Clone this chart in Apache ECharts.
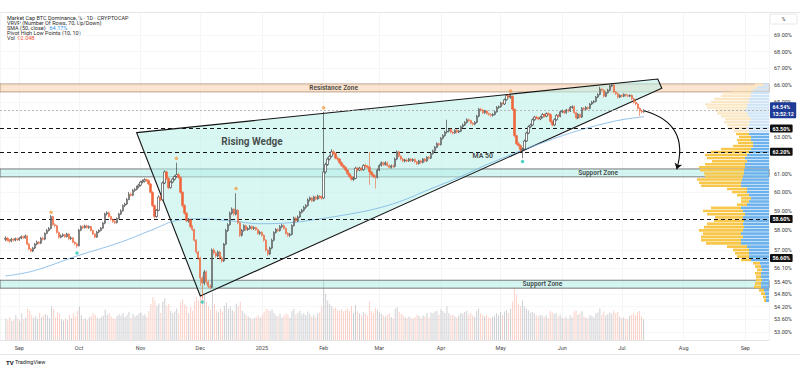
<!DOCTYPE html>
<html><head><meta charset="utf-8">
<script src="https://cdn.jsdelivr.net/npm/echarts@6/dist/echarts.min.js"></script>
<style>html,body{margin:0;padding:0;background:#fff}#c{width:800px;height:370px}</style>
</head><body><div id="c"></div>
<script>
// ---------- DATA ----------
const startDate = '2024-08-25';
// daily candles: [open, close, low, high]
const ohlc = [
[57.55,57.6,57.45,57.7],[57.6,57.5,57.42,57.66],[57.5,57.45,57.36,57.56],[57.45,57.55,57.4,57.62],[57.55,57.5,57.43,57.6],
[57.5,57.58,57.44,57.64],[57.58,57.52,57.46,57.63],[57.52,57.6,57.47,57.66],[57.6,57.68,57.55,57.75],[57.68,57.62,57.56,57.74],
[57.62,57.72,57.58,57.8],[57.72,57.3,57.25,57.76],[57.3,57.05,56.98,57.36],[57.05,56.95,56.88,57.1],[56.95,57.1,56.9,57.16],
[57.1,57.3,57.05,57.36],[57.3,57.4,57.24,57.48],[57.4,57.35,57.28,57.46],[57.35,57.6,57.3,57.66],[57.6,57.55,57.48,57.68],
[57.55,57.85,57.5,57.9],[57.85,58.0,57.8,58.08],[58.0,58.1,57.94,58.18],[58.1,58.72,58.05,58.8],[58.72,58.3,58.24,58.76],
[58.3,58.25,58.15,58.38],[58.25,57.9,57.84,58.3],[57.9,57.65,57.58,57.95],[57.65,57.72,57.6,57.8],[57.72,57.78,57.66,57.85],
[57.78,57.68,57.62,57.82],[57.68,57.82,57.64,57.88],[57.82,57.58,57.52,57.86],[57.58,57.62,57.5,57.7],[57.62,57.4,57.35,57.66],
[57.4,57.32,57.24,57.46],[57.32,57.22,57.1,57.38],[57.22,58.02,57.18,58.08],[58.02,58.2,57.96,58.26],[58.2,58.14,58.08,58.28],
[58.14,58.24,58.1,58.3],[58.24,58.15,58.1,58.3],[58.15,58.2,58.08,58.26],[58.2,58.0,57.95,58.24],[58.0,57.82,57.76,58.05],
[57.82,57.66,57.6,57.86],[57.66,57.92,57.62,57.98],[57.92,58.0,57.86,58.06],[58.0,58.12,57.95,58.18],[58.12,58.38,58.08,58.44],
[58.38,58.86,58.32,58.92],[58.86,58.92,58.78,59.0],[58.92,58.72,58.66,58.98],[58.72,58.56,58.5,58.78],[58.56,58.46,58.4,58.62],
[58.46,58.4,58.32,58.52],[58.4,58.62,58.36,58.68],[58.62,58.86,58.58,58.92],[58.86,59.02,58.8,59.1],[59.02,59.3,58.98,59.36],
[59.3,59.38,59.22,59.45],[59.38,59.62,59.32,59.7],[59.62,59.9,59.58,60.02],[59.9,59.84,59.76,59.98],[59.84,60.1,59.8,60.18],
[60.1,60.16,60.02,60.24],[60.16,60.3,60.1,60.36],[60.3,60.38,60.22,60.46],[60.38,60.55,60.32,60.62],[60.55,60.6,60.48,60.7],
[60.6,60.68,60.52,60.76],[60.68,60.64,60.56,60.74],[60.64,60.45,60.38,60.7],[60.45,60.0,59.94,60.5],[60.0,59.3,59.22,60.06],
[59.3,58.72,58.62,59.36],[58.72,59.05,58.66,59.12],[59.05,59.75,59.0,59.84],[59.75,59.6,59.52,59.86],[59.6,60.5,59.55,60.58],
[60.5,61.1,60.44,61.18],[61.1,60.75,60.66,61.16],[60.75,60.25,60.16,60.8],[60.25,60.55,60.2,60.62],[60.55,60.7,60.48,60.78],
[60.7,60.85,60.62,60.92],[60.85,60.95,60.78,61.6],[60.95,60.8,60.72,61.05],[60.8,60.0,59.92,60.86],[60.0,59.3,59.2,60.06],
[59.3,58.9,58.82,59.38],[58.9,58.5,58.42,58.96],[58.5,58.55,58.4,58.64],[58.55,58.2,58.12,58.6],[58.2,58.05,57.96,58.28],
[58.05,57.5,57.42,58.1],[57.5,56.9,56.8,57.56],[56.9,56.6,56.5,56.96],[56.6,55.6,55.2,56.66],[55.6,55.35,54.6,55.7],
[55.35,55.9,55.25,56.0],[55.9,55.4,55.3,55.98],[55.4,55.2,55.1,55.48],[55.2,55.15,55.04,55.3],[55.15,57.0,55.1,57.08],
[57.0,56.85,56.76,57.1],[56.85,56.7,56.6,56.92],[56.7,56.9,56.64,56.98],[56.9,56.6,56.52,56.96],[56.6,56.45,56.36,56.68],
[56.45,57.3,56.4,57.36],[57.3,58.0,57.24,58.08],[58.0,58.3,57.92,58.38],[58.3,58.9,58.24,58.98],[58.9,59.1,58.82,59.2],
[59.1,58.85,58.76,59.18],[58.85,59.05,58.78,59.95],[59.05,58.4,58.32,59.12],[58.4,57.75,57.66,58.46],[57.75,58.0,57.68,58.08],
[58.0,58.25,57.94,58.32],[58.25,58.05,57.98,58.3],[58.05,58.1,57.98,58.18],[58.1,58.2,58.04,58.28],[58.2,58.1,58.02,58.26],
[58.1,58.15,58.02,58.22],[58.15,58.05,57.98,58.2],[58.05,57.85,57.78,58.1],[57.85,57.9,57.76,57.98],[57.9,57.75,57.68,57.96],
[57.75,57.5,57.42,57.8],[57.5,57.0,56.92,57.56],[57.0,56.8,56.7,57.06],[56.8,57.1,56.74,57.18],[57.1,57.5,57.04,57.58],
[57.5,57.9,57.44,57.96],[57.9,58.05,57.84,58.12],[58.05,58.0,57.92,58.12],[58.0,58.2,57.94,58.28],[58.2,58.25,58.12,58.34],
[58.25,58.1,58.04,58.32],[58.1,57.85,57.78,58.16],[57.85,57.75,57.66,57.92],[57.75,57.8,57.66,57.88],[57.8,58.25,57.74,58.32],
[58.25,58.65,58.2,58.72],[58.65,58.5,58.42,58.72],[58.5,58.7,58.44,58.78],[58.7,58.95,58.64,59.02],[58.95,59.05,58.88,59.12],
[59.05,59.2,58.98,59.28],[59.2,59.3,59.12,59.38],[59.3,59.6,59.24,59.68],[59.6,59.7,59.52,59.78],[59.7,59.55,59.48,59.76],
[59.55,59.75,59.5,59.82],[59.75,59.65,59.58,59.82],[59.65,59.8,59.6,59.88],[59.8,59.75,59.66,59.86],[59.75,59.7,59.6,59.82],
[59.7,61.1,59.64,64.45],[61.1,61.5,61.0,61.6],[61.5,61.8,61.42,61.9],[61.8,61.95,61.72,62.04],[61.95,62.2,61.88,62.35],
[62.2,62.1,62.02,62.3],[62.1,61.85,61.78,62.16],[61.85,61.8,61.7,61.94],[61.8,61.6,61.52,61.86],[61.6,61.45,61.38,61.68],
[61.45,61.35,61.26,61.52],[61.35,61.2,61.12,61.42],[61.2,61.0,60.92,61.26],[61.0,60.85,60.76,61.06],[60.85,60.7,60.62,60.92],
[60.7,60.75,60.6,60.84],[60.75,61.3,60.7,61.38],[61.3,61.2,61.12,61.38],[61.2,61.3,61.14,61.38],[61.3,61.22,61.14,61.36],
[61.22,61.45,61.16,61.52],[61.45,61.4,61.32,61.54],[61.4,61.35,61.26,61.48],[61.35,61.1,60.4,62.2],[61.1,60.95,60.86,61.16],
[60.95,60.85,60.76,61.02],[60.85,60.8,60.2,60.92],[60.8,61.2,60.74,61.28],[61.2,61.45,61.14,61.52],[61.45,61.6,61.38,61.68],
[61.6,61.5,61.42,61.66],[61.5,61.6,61.44,61.68],[61.6,61.45,61.38,61.66],[61.45,61.35,61.28,61.52],[61.35,61.42,61.28,61.5],
[61.42,61.4,61.32,61.5],[61.4,61.8,61.34,61.88],[61.8,62.2,61.74,62.28],[62.2,61.95,61.88,62.26],[61.95,61.8,61.72,62.02],
[61.8,61.7,61.62,61.86],[61.7,61.75,61.62,61.82],[61.75,61.7,61.62,61.82],[61.7,61.8,61.64,61.86],[61.8,61.72,61.64,61.86],
[61.72,61.78,61.64,61.84],[61.78,61.65,61.58,61.84],[61.65,61.55,61.48,61.7],[61.55,61.7,61.5,61.76],[61.7,61.62,61.54,61.76],
[61.62,61.8,61.56,61.86],[61.8,61.7,61.62,61.86],[61.7,61.9,61.64,61.96],[61.9,61.85,61.78,61.96],[61.85,62.1,61.8,62.16],
[62.1,62.25,62.04,62.32],[62.25,62.45,62.2,62.52],[62.45,62.65,62.4,62.72],[62.65,62.6,62.52,62.72],[62.6,62.95,62.55,63.02],
[62.95,63.1,62.88,63.18],[63.1,63.3,63.04,63.38],[63.3,63.35,63.22,64.0],[63.35,63.45,63.28,63.52],[63.45,63.3,63.22,63.5],
[63.3,63.25,63.16,63.36],[63.25,63.4,63.2,63.46],[63.4,63.3,63.22,63.46],[63.3,63.35,63.24,63.42],[63.35,63.6,63.3,63.66],
[63.6,63.7,63.52,63.78],[63.7,63.85,63.64,63.92],[63.85,64.0,63.78,64.08],[64.0,63.95,63.86,64.06],[63.95,63.8,63.72,64.0],
[63.8,63.75,63.66,63.86],[63.75,63.85,63.68,63.92],[63.85,64.2,63.8,64.28],[64.2,64.6,64.14,64.68],[64.6,64.55,64.46,64.68],
[64.55,64.4,64.32,64.6],[64.4,64.5,64.34,64.56],[64.5,64.35,64.28,64.56],[64.35,64.3,64.22,64.42],[64.3,64.25,64.16,64.36],
[64.25,64.3,64.18,64.38],[64.3,64.45,64.24,64.52],[64.45,64.7,64.4,64.78],[64.7,64.75,64.62,64.82],[64.75,64.95,64.68,65.02],
[64.95,64.9,64.82,65.02],[64.9,65.15,64.84,65.22],[65.15,65.4,65.08,65.46],[65.4,65.3,65.22,65.46],[65.3,65.35,65.2,65.45],
[65.35,64.6,64.52,65.4],[64.6,63.1,63.0,64.66],[63.1,62.65,62.56,63.16],[62.65,62.55,62.44,62.76],[62.55,62.3,62.2,62.62],
[62.3,62.35,61.85,62.44],[62.35,62.8,62.28,62.88],[62.8,63.25,62.74,63.32],[63.25,63.6,63.18,63.68],[63.6,63.7,63.52,63.78],
[63.7,64.0,63.64,64.08],[64.0,64.15,63.92,64.22],[64.15,64.1,64.02,64.22],[64.1,64.05,63.96,64.16],[64.05,64.15,63.98,64.22],
[64.15,64.3,64.08,64.38],[64.3,64.2,64.12,64.36],[64.2,64.35,64.14,64.42],[64.35,64.3,64.22,64.42],[64.3,63.9,63.82,64.36],
[63.9,63.7,63.62,63.96],[63.7,64.0,63.64,64.08],[64.0,64.25,63.94,64.32],[64.25,64.2,64.12,64.32],[64.2,64.45,64.14,64.52],
[64.45,64.5,64.38,64.58],[64.5,64.4,64.32,64.56],[64.4,64.55,64.34,64.62],[64.55,64.5,64.42,64.62],[64.5,64.7,64.44,64.78],
[64.7,64.75,64.62,64.82],[64.75,64.4,64.32,64.8],[64.4,64.1,64.02,64.46],[64.1,64.3,64.04,64.38],[64.3,64.15,64.06,64.36],
[64.15,64.65,64.1,64.72],[64.65,64.6,64.52,64.72],[64.6,64.7,64.54,64.78],[64.7,64.65,64.56,64.76],[64.65,64.9,64.6,64.96],
[64.9,65.0,64.84,65.08],[65.0,65.05,64.94,65.12],[65.05,65.3,65.0,65.36],[65.3,65.45,65.24,65.52],[65.45,65.75,65.4,65.9],
[65.75,65.7,65.62,65.82],[65.7,65.35,65.28,65.76],[65.35,65.55,65.3,65.62],[65.55,65.7,65.5,65.78],[65.7,65.95,65.64,66.02],
[65.95,66.0,65.88,66.1],[66.0,65.6,65.52,66.06],[65.6,65.5,65.42,65.66],[65.5,65.3,65.22,65.56],[65.3,65.4,65.24,65.46],
[65.4,65.35,65.28,65.46],[65.35,65.45,65.3,65.52],[65.45,65.4,65.32,65.5],[65.4,65.35,65.28,65.46],[65.35,65.4,65.3,65.46],
[65.4,65.2,65.12,65.46],[65.2,65.0,64.92,65.26],[65.0,64.9,64.82,65.06],[64.9,64.65,64.56,64.96],[64.65,64.5,64.2,64.72],
[64.5,64.45,64.36,64.58],[64.45,64.54,64.4,64.6]
];
// daily volume (B)
const volumes = [
95,88,102,84,90,110,96,86,118,92, 100,140,130,112,98,105,94,120,102,110,
115,108,96,150,138,100,122,115,92,86, 94,88,112,96,118,104,130,148,110,92,
96,88,100,106,118,112,98,94,102,108, 135,112,118,104,96,92,106,114,108,120,
102,112,125,98,116,104,110,118,122,108, 114,102,128,160,190,175,150,162,120,170,
185,150,160,128,118,126,140,120,165,180, 158,150,118,146,130,170,190,175,230,240,
200,170,150,135,210,160,130,122,138,126, 152,165,140,150,132,126,160,150,168,130,
118,110,104,98,92,96,102,112,100,110, 124,140,132,128,136,120,110,104,116,100,
108,118,112,98,130,138,112,120,128,114, 118,110,126,116,104,112,100,118,122,150,
260,205,175,160,150,138,144,132,128,136, 126,132,140,128,150,120,155,126,118,110,
124,116,108,170,128,120,142,134,122,116, 110,104,112,118,102,96,138,146,124,116,
108,100,96,104,98,94,102,112,106,98, 110,104,120,98,122,118,126,130,112,136,
128,120,150,118,110,112,104,98,108,120, 116,124,130,112,120,108,102,128,140,118,
110,104,112,100,96,102,108,120,110,124, 112,126,132,118,140,170,235,200,160,150,
175,150,140,132,120,124,118,110,104,112, 108,102,110,96,130,122,116,120,104,112,
98,96,104,92,108,100,126,132,112,118, 130,104,98,96,110,106,100,118,122,140,
112,126,108,114,122,116,130,118,124,104, 96,100,94,92,106,112,118,110,124,128,
104,92
];
// SMA(50)
const maPoints = [
['2024-08-25',55.7],['2024-09-08',55.95],['2024-09-30',56.7],['2024-10-22',57.4],['2024-11-06',58.0],
['2024-11-21',58.55],['2024-12-01',58.6],['2024-12-16',58.5],['2024-12-31',58.35],['2025-01-15',58.4],
['2025-01-30',58.6],['2025-02-14',58.85],['2025-02-26',59.1],['2025-03-11',59.5],['2025-03-26',60.15],
['2025-04-10',60.8],['2025-04-22',61.4],['2025-05-02',61.85],['2025-05-12',62.3],['2025-05-22',62.7],
['2025-06-01',63.1],['2025-06-11',63.45],['2025-06-21',63.75],['2025-07-01',64.0],['2025-07-12',64.17]
];
const pivotHighs = [['2024-09-17',58.95],['2024-11-19',61.84],['2024-12-19',60.21],['2025-02-01',64.68],['2025-05-06',65.65]];
const pivotLows = [['2024-09-30',56.85],['2024-12-02',54.43],['2025-05-12',61.67]];
const wedge = [['2024-10-30',63.27],['2025-07-19',66.36],['2025-07-21',65.82],['2024-12-01',54.72]];
const resistanceZone = [65.6, 66.07];
const supportZones = [[60.83, 61.26], [55.1, 55.49]];
const keyLevels = [63.5, 62.2, 58.6, 56.6];
const lastPrice = 64.54;
const lastTime = '13:52:12';
const priceTicks = [69, 68, 67, 66, 65, 63, 61, 60, 59, 58, 57, 56.1, 55.4, 54.8, 54.2, 53.6, 53];
const monthLabels = ['Jan','Feb','Mar','Apr','May','Jun','Jul','Aug','Sep','Oct','Nov','Dec'];
// VRVP, 70 rows from profileLow upward
const profileLow = 54.4, profileStep = 0.1671, paleFrom = 53;
const profileUp = [3,3,4,5, 8,8,7, 8,8,7,8,9, 18,20,20,20,22, 28,28,26,28,26,25,26,25,26,24,26,28,
  22,20,18,20,22,22, 28,28,27,26,25,25,24,24,22,24,22, 20,18,16,16, 18,18,20,20,22,
  20,20,18,20,22,24, 22,22,20,20,18,18, 16,12,6];
const profileDown = [2,3,4,5, 7,6,6, 5,6,5,6,7, 10,12,14,16,20, 35,40,42,38,44,40,36,30,28,38,40,30,
  10,8,10,12,15,20, 40,42,45,38,40,44,46,40,35,38,42, 38,30,20,15, 14,12,13,15,18,
  22,25,26,28,30,30, 40,42,38,35,30,28, 22,15,8];
const annotations = [
  {text:'Rising Wedge', at:['2024-12-27',62.77], size:10},
  {text:'MA 50', at:['2025-04-22',61.95], size:7},
  {text:'Resistance Zone', at:['2025-02-06',65.83], size:6.5},
  {text:'Support Zone', at:['2025-06-19',61.05], size:6.5},
  {text:'Support Zone', at:['2025-05-22',55.3], size:6.5}
];
const arrowPath = [['2025-07-12',64.5],['2025-07-28',61.24]];

// ---------- CHART ----------
const DAY = 86400000;
const ts = s => { const [y,m,d] = s.split('-').map(Number); return Date.UTC(y, m-1, d); };
const t0 = ts(startDate);
const dates = ohlc.map((_, i) => t0 + i*DAY);
const xMin = ts('2024-08-22') + 0.3*DAY, xMax = ts('2025-09-12') + 0.9*DAY;
const yMin = 52.62, yMax = 70.43;
const FONT = 'Roboto, "Noto Sans", sans-serif';
const wedgePts = wedge.map(p => [ts(p[0]), p[1]]);

const chart = echarts.init(document.getElementById('c'), null, {renderer:'svg'});
const gridBase = {left:0, right:31, top:12, bottom:30, outerBoundsMode:'none', containLabel:false};

const option = {
  animation:false,
  useUTC:true,
  backgroundColor:'#ffffff',
  grid:[
    Object.assign({}, gridBase),
    Object.assign({}, gridBase, {top:270}),
    Object.assign({}, gridBase, {left:689})
  ],
  xAxis:[
    {type:'time', gridIndex:0, min:xMin, max:xMax, minInterval:28*DAY, maxInterval:31*DAY,
     axisLine:{show:true, lineStyle:{color:'#e4e4e4'}},
     axisTick:{show:false},
     axisLabel:{fontSize:5.5, color:'#4a4a4a', fontFamily:FONT, margin:5, showMinLabel:false, showMaxLabel:false,
       formatter:(v)=>{ const d = new Date(v); const m = d.getUTCMonth(); return m === 0 ? String(d.getUTCFullYear()) : monthLabels[m]; }},
     splitLine:{show:true, lineStyle:{color:'#f1f1f1', width:0.7}}},
    {type:'time', gridIndex:1, min:xMin, max:xMax, show:false},
    {type:'value', gridIndex:2, min:0, max:80, inverse:true, show:false}
  ],
  yAxis:[
    {type:'log', logBase:10, gridIndex:0, min:yMin, max:yMax, position:'right',
     axisLine:{show:false}, axisTick:{show:false, customValues:priceTicks},
     axisLabel:{customValues:priceTicks, formatter:v=>(+v).toFixed(2)+'%', fontSize:5.5, color:'#3a3a3a', fontFamily:FONT, margin:5, align:'left'},
     splitLine:{show:true, lineStyle:{color:'#f3f3f3', width:0.7}}},
    {type:'value', gridIndex:1, min:0, max:310, show:false},
    {type:'log', logBase:10, gridIndex:2, min:yMin, max:yMax, show:false}
  ],
  series:[
    {type:'bar', xAxisIndex:1, yAxisIndex:1, z:0, barWidth:1, silent:true,
     data: volumes.map((v,i)=>[dates[i], v]),
     itemStyle:{color:(p)=> ohlc[p.dataIndex][1] >= ohlc[p.dataIndex][0] ? 'rgba(120,123,134,0.36)' : 'rgba(242,100,70,0.3)'}},
    {type:'custom', xAxisIndex:0, yAxisIndex:0, z:1, silent:true, clip:false,
     data: wedgePts,
     renderItem:(params, api)=>{
       if (params.dataIndex !== 0) return null;
       const pts = wedgePts.map(p=>api.coord(p));
       return {type:'polygon', shape:{points:pts}, style:{fill:'rgba(184,238,232,0.55)', stroke:'#141414', lineWidth:1.1}};
     }},
    {type:'line', xAxisIndex:0, yAxisIndex:0, z:3, data:[], silent:true,
     markArea:{silent:true, data:[
       [{yAxis:resistanceZone[0], itemStyle:{color:'rgba(250,208,170,0.55)', borderColor:'#b08e74', borderWidth:0.8}}, {yAxis:resistanceZone[1]}],
       [{yAxis:supportZones[0][0], itemStyle:{color:'rgba(160,232,224,0.45)', borderColor:'#5a5a5a', borderWidth:0.8}}, {yAxis:supportZones[0][1]}],
       [{yAxis:supportZones[1][0], itemStyle:{color:'rgba(160,232,224,0.45)', borderColor:'#5a5a5a', borderWidth:0.8}}, {yAxis:supportZones[1][1]}]
     ]},
     markLine:{silent:true, symbol:'none', animation:false,
       data: keyLevels.map(v=>({yAxis:v, label:{formatter:v.toFixed(2)+'%'}})).concat([
         {yAxis:lastPrice, lineStyle:{type:[2,2], color:'#a8a8a8', width:0.8},
          label:{formatter:lastPrice.toFixed(2)+'%\n'+lastTime, backgroundColor:'#1f3b95', lineHeight:6.5}}
       ]),
       lineStyle:{type:[4,3], color:'#151515', width:1.1},
       label:{position:'end', distance:1, color:'#fff', backgroundColor:'#111', padding:[1.5,2.5], fontSize:5.3, fontFamily:FONT, fontWeight:'bold', borderRadius:1}}},
    {type:'custom', xAxisIndex:2, yAxisIndex:2, z:2, silent:true,
     data: profileUp.map((_,k)=>[k, profileLow + (k+0.5)*profileStep]),
     renderItem:(params, api)=>{
       const k = params.dataIndex;
       const lo = profileLow + k*profileStep, hi = lo + profileStep;
       const yT = api.coord([0, hi])[1], yB = api.coord([0, lo])[1];
       const x0 = api.coord([0, lo])[0];
       const x1 = api.coord([profileUp[k], lo])[0];
       const x2 = api.coord([profileUp[k] + profileDown[k], lo])[0];
       const pale = k >= paleFrom;
       const h = Math.max(0.5, yB - yT - 0.6);
       return {type:'group', children:[
         {type:'rect', shape:{x:x1, y:yT, width:x0-x1, height:h}, style:{fill: pale ? '#cfe4f6' : '#6db2ec'}},
         {type:'rect', shape:{x:x2, y:yT, width:x1-x2, height:h}, style:{fill: pale ? '#fbe7c4' : '#f8c74a'}}
       ]};
     }},
    {type:'line', xAxisIndex:0, yAxisIndex:0, z:4, smooth:0.4, symbol:'none', silent:true,
     data: maPoints.map(p=>[ts(p[0]), p[1]]),
     lineStyle:{color:'#79b4e6', width:0.8}},
    {type:'candlestick', xAxisIndex:0, yAxisIndex:0, z:5, barWidth:1.8, silent:true,
     encode:{x:0, y:[1,2,3,4]},
     data: ohlc.map((r,i)=>[dates[i], r[0], r[1], r[2], r[3]]),
     itemStyle:{color:'#ffffff', color0:'#f0663c', borderColor:'#2e2e2e', borderColor0:'#f0663c', borderWidth:0.6}},
    {type:'scatter', xAxisIndex:0, yAxisIndex:0, z:6, symbolSize:3.5, silent:true,
     data: pivotHighs.map(p=>[ts(p[0]), p[1]]), itemStyle:{color:'#f4a04c'}},
    {type:'scatter', xAxisIndex:0, yAxisIndex:0, z:6, symbolSize:3.5, silent:true,
     data: pivotLows.map(p=>[ts(p[0]), p[1]]), itemStyle:{color:'#2cc7b7'}},
    {type:'scatter', xAxisIndex:0, yAxisIndex:0, z:8, symbolSize:0, silent:true,
     data: annotations.map(a=>({value:[ts(a.at[0]), a.at[1]], label:{show:true, formatter:a.text, fontSize:a.size}})),
     label:{position:'inside', color:'#1e1e1e', fontWeight:'bold', fontFamily:FONT}},
    {type:'lines', coordinateSystem:'cartesian2d', xAxisIndex:0, yAxisIndex:0, z:7, silent:true,
     symbol:['none','arrow'], symbolSize:6,
     data:[{coords: arrowPath.map(p=>[ts(p[0]) + 0.5*DAY, p[1]])}],
     lineStyle:{color:'#111', width:1.1, curveness:0.5, opacity:1}}
  ],
  graphic:[
    {type:'line', shape:{x1:0, y1:12.5, x2:800, y2:12.5}, style:{stroke:'#e6e6e6', lineWidth:1}, silent:true},
    {type:'line', shape:{x1:0, y1:354.5, x2:800, y2:354.5}, style:{stroke:'#e6e6e6', lineWidth:1}, silent:true},
    {type:'rect', shape:{x:770, y:14, width:27, height:10, r:1}, style:{fill:'#fff', stroke:'#e2e2e2', lineWidth:0.8}, silent:true},
    {type:'text', x:783.5, y:19, style:{text:'%', fontSize:5, fill:'#333', fontFamily:FONT, align:'center', verticalAlign:'middle'}, silent:true},
    {type:'text', x:7, y:18.3, style:{text:'Market Cap BTC Dominance, % · 1D · CRYPTOCAP', fontSize:5.5, fill:'#2a2a2a', fontFamily:FONT, verticalAlign:'middle'}, silent:true},
    {type:'text', x:7, y:23.3, style:{text:'VRVP (Number Of Rows, 70, Up/Down)', fontSize:5.5, fill:'#2a2a2a', fontFamily:FONT, verticalAlign:'middle'}, silent:true},
    {type:'text', x:7, y:28.3, style:{text:'SMA (50, close)', fontSize:5.5, fill:'#2a2a2a', fontFamily:FONT, verticalAlign:'middle'}, silent:true},
    {type:'text', x:49.5, y:28.3, style:{text:'64.17%', fontSize:5.5, fill:'#2f8ee5', fontFamily:FONT, verticalAlign:'middle'}, silent:true},
    {type:'text', x:7, y:33.3, style:{text:'Pivot High Low Points (10, 10)', fontSize:5.5, fill:'#2a2a2a', fontFamily:FONT, verticalAlign:'middle'}, silent:true},
    {type:'text', x:7, y:38.1, style:{text:'Vol', fontSize:5.5, fill:'#2a2a2a', fontFamily:FONT, verticalAlign:'middle'}, silent:true},
    {type:'text', x:17.5, y:38.1, style:{text:'92.04B', fontSize:5.5, fill:'#f0553c', fontFamily:FONT, verticalAlign:'middle'}, silent:true},
    {type:'text', x:6, y:362, style:{text:'TV', fontSize:6, fontWeight:'bold', fill:'#131722', fontFamily:FONT, verticalAlign:'middle'}, silent:true},
    {type:'text', x:15, y:362, style:{text:'TradingView', fontSize:5.5, fill:'#131722', fontFamily:FONT, verticalAlign:'middle'}, silent:true}
  ]
};
chart.setOption(option);
</script>
</body></html>
